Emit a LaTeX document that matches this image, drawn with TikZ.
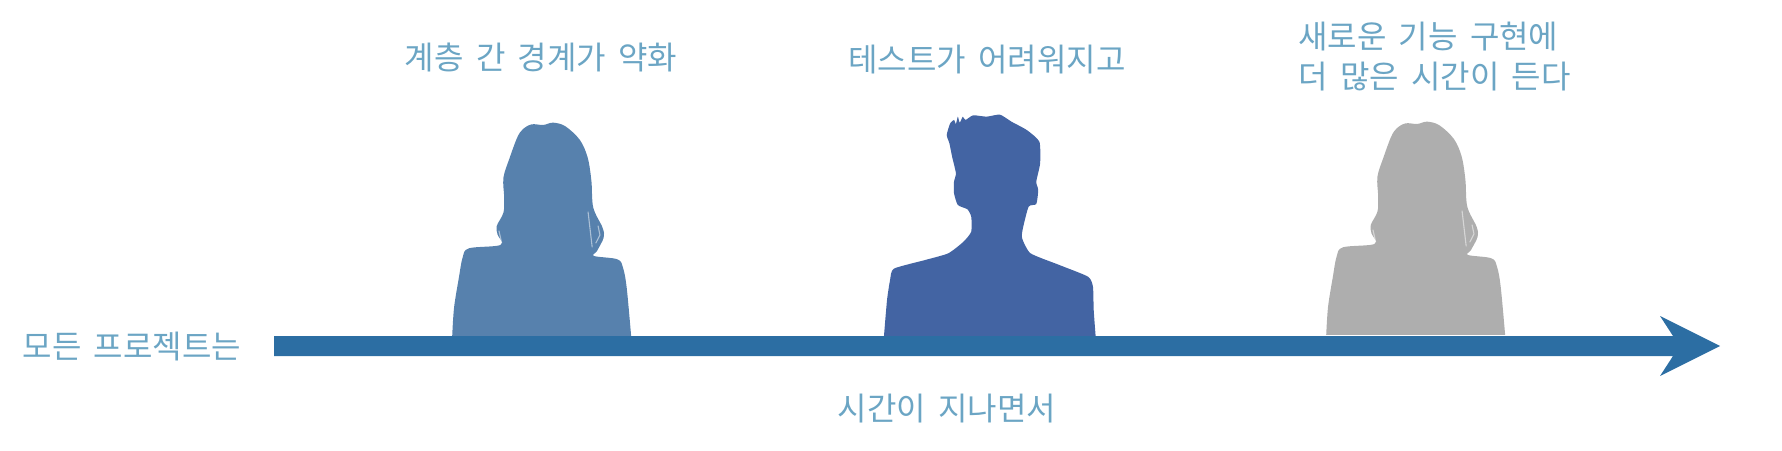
\documentclass[tikz,border=0pt]{standalone}
\usepackage{fontspec}
\setmainfont[WordSpace=1.7]{Noto Sans CJK KR}
\definecolor{txt}{HTML}{6BA5C4}
\definecolor{barblue}{HTML}{2C6EA3}
\definecolor{womanblue}{HTML}{5781AD}
\definecolor{manblue}{HTML}{4364A3}
\definecolor{womangray}{HTML}{AEAEAE}
\tikzset{
  label text/.style={text=txt,font=\fontsize{32}{40}\selectfont,inner sep=0pt,align=left,anchor=center},
  hair line/.style={white,opacity=.5,line width=1.1pt,line cap=round},
}
\newcommand{\womanshape}{plot[smooth,tension=.55] coordinates {(340,1005)(345,920)(358,830)(368,770)(385,742)(470,732)(462,700)(460,675)(478,635)(480,590)(478,530)(495,470)(515,410)(530,385)(554,370)(585,372)(612,365)(645,376)(684,417)(705,470)(715,540)(720,620)(745,680)(748,710)(730,750)(722,765)(785,775)(800,800)(810,860)(822,1005)} -- cycle}
\newcommand{\womanhair}{
  \draw[hair line] (706,633) -- (717,738);
  \draw[hair line] (733,675) -- (738,702) -- (727,726);
  \draw[hair line] (466,690) -- (473,725);
}
\begin{document}
\begin{tikzpicture}[x=1pt,y=-1pt]
\useasboundingbox (0,0) rectangle (1782,450);
% gray woman
\begin{scope}[shift={(1200,0)},x=0.3712pt,y=-0.3333pt]
  \fill[womangray] \womanshape;
  \womanhair
\end{scope}
% blue woman
\begin{scope}[shift={(326,1)},x=0.3712pt,y=-0.3333pt]
  \fill[womanblue] \womanshape;
  \womanhair
\end{scope}
% man
\begin{scope}[shift={(600,0)},x=0.3827pt,y=-0.3333pt]
  \fill[manblue] plot[smooth,tension=.35] coordinates {(742,1008)(750,900)(758,840)(768,806)(850,780)(910,760)(950,725)(970,695)(970,650)(960,628)(935,615)(925,580)(925,545)(930,520)(920,470)(913,430)(906,405)(915,370)(925,360)(930,372)(935,350)(940,368)(948,350)(955,360)(975,346)(1010,350)(1045,344)(1075,365)(1115,390)(1148,425)(1150,490)(1140,545)(1145,570)(1140,612)(1120,620)(1105,685)(1103,715)(1125,760)(1200,795)(1275,830)(1288,860)(1290,930)(1295,1008)} -- cycle;
\end{scope}
% arrow
\fill[barblue] (274,336) -- (1673,336) -- (1660,316) -- (1720,346) -- (1660,376) -- (1673,356) -- (274,356) -- cycle;
% texts
\node[label text] (t1) at (541,57) {계층 간 경계가 약화};
\node[label text] (t2) at (987,60) {테스트가 어려워지고};
\node[label text] (t3) at (1434.5,57) {새로운 기능 구현에\\더 많은 시간이 든다};
\node[label text] (t4) at (132,347) {모든 프로젝트는};
\node[label text] (t5) at (947,409) {시간이 지나면서};
\end{tikzpicture}
\end{document}
